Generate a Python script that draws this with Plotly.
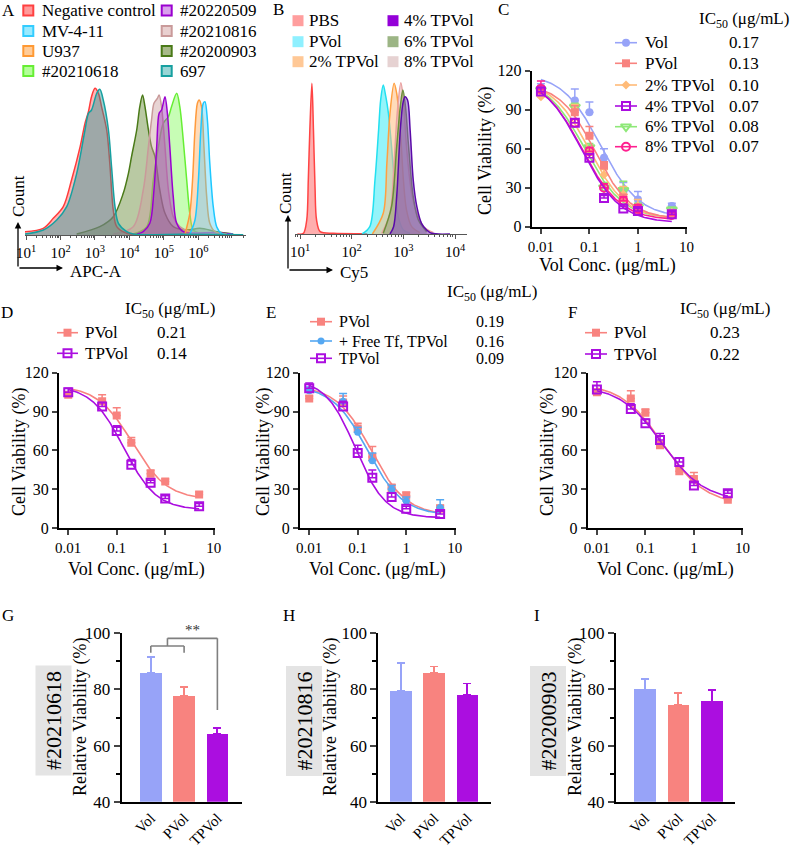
import numpy as np
import plotly.graph_objects as go

W, H = 790, 845
FONT = "Liberation Serif"

# ================= DATA =================
# ---- Panel A : flow histograms, x = log10(APC-A), y = relative count ----
a_labels = ["Negative control", "MV-4-11", "U937", "#20210618",
            "#20220509", "#20210816", "#20200903", "697"]
a_neg_x = [0.97, 1.50, 1.79, 2.08, 2.32, 2.57, 2.71, 2.81, 2.90, 3.00, 3.10, 3.19, 3.34, 3.43, 3.53, 3.63, 3.92, 4.5]
a_neg_y = [10, 20, 50, 85, 165, 265, 335, 370, 415, 440, 425, 385, 315, 215, 75, 25, 5, 0]
a_mv_x = [5.75, 5.90, 6.00, 6.07, 6.14, 6.19, 6.26, 6.33, 6.43, 6.53, 6.67, 7.0]
a_mv_y = [3, 45, 165, 315, 395, 400, 345, 215, 85, 25, 5, 2]
a_u937_x = [5.61, 5.75, 5.83, 5.90, 5.97, 6.02, 6.09, 6.16, 6.24, 6.33, 6.48, 6.82]
a_u937_y = [3, 65, 165, 315, 395, 405, 385, 265, 115, 35, 10, 3]
a_0618_x = [4.11, 4.50, 4.69, 4.84, 4.98, 5.13, 5.22, 5.37, 5.46, 5.56, 5.66, 5.75, 5.85, 6.04]
a_0618_y = [3, 25, 165, 265, 335, 355, 385, 425, 385, 285, 165, 65, 15, 5]
a_0509_x = [4.21, 4.40, 4.59, 4.71, 4.79, 4.86, 4.93, 5.03, 5.10, 5.17, 5.27, 5.37, 5.56, 6.53, 7.0]
a_0509_y = [3, 10, 35, 135, 265, 365, 375, 415, 365, 265, 115, 35, 10, 7, 2]
a_0816_x = [3.53, 4.11, 4.40, 4.55, 4.64, 4.71, 4.81, 4.86, 4.93, 5.03, 5.13, 5.27, 5.46, 5.75, 6.2]
a_0816_y = [3, 25, 135, 265, 345, 395, 410, 420, 385, 265, 135, 55, 25, 10, 3]
a_0903_x = [2.47, 3.14, 3.53, 3.82, 3.97, 4.06, 4.21, 4.30, 4.38, 4.45, 4.55, 4.64, 4.74, 4.88, 5.03, 5.27, 5.66, 6.04, 6.53, 7.01]
a_0903_y = [3, 25, 55, 125, 185, 235, 315, 385, 420, 385, 315, 265, 235, 135, 65, 25, 15, 20, 10, 3]
a_697_x = [0.97, 1.50, 1.89, 2.18, 2.47, 2.71, 2.81, 2.90, 3.05, 3.14, 3.24, 3.39, 3.48, 3.58, 3.68, 3.92, 4.11, 4.6, 5.5, 7.3]
a_697_y = [3, 15, 45, 85, 185, 315, 365, 375, 425, 437, 405, 315, 205, 85, 35, 10, 3, 1, 2, 1]
a_ticks = [1, 2, 3, 4, 5, 6]

# ---- Panel B : flow histograms, x = log10(Cy5) ----
b_labels = ["PBS", "PVol", "2% TPVol", "4% TPVol", "6% TPVol", "8% TPVol"]
b_pbs_x = [0.95, 1.065, 1.13, 1.16, 1.19, 1.23, 1.26, 1.29, 1.32, 1.39, 1.65, 2.3]
b_pbs_y = [0, 2, 42, 162, 312, 452, 312, 142, 42, 7, 2, 1]
b_pvol_x = [2.20, 2.35, 2.45, 2.52, 2.56, 2.61, 2.66, 2.71, 2.77, 2.84, 2.90, 3.00, 3.13]
b_pvol_y = [0, 22, 162, 312, 402, 447, 412, 362, 262, 132, 52, 12, 2]
b_tp2_x = [2.40, 2.61, 2.68, 2.74, 2.82, 2.87, 2.94, 3.00, 3.06, 3.16, 3.32]
b_tp2_y = [0, 62, 212, 362, 452, 422, 312, 162, 72, 22, 4]
b_tp4_x = [2.74, 2.81, 2.87, 2.94, 2.99, 3.03, 3.08, 3.13, 3.19, 3.26, 3.35, 3.45, 3.55, 3.90]
b_tp4_y = [0, 22, 112, 312, 392, 412, 402, 312, 162, 82, 32, 12, 2, 0]
b_tp6_x = [2.61, 2.77, 2.87, 2.94, 2.99, 3.04, 3.10, 3.19, 3.29, 3.45]
b_tp6_y = [2, 82, 262, 382, 432, 382, 262, 112, 42, 7]
b_tp8_x = [2.58, 2.74, 2.82, 2.88, 2.95, 3.00, 3.06, 3.16, 3.26, 3.39, 3.58]
b_tp8_y = [2, 62, 212, 362, 454, 402, 262, 122, 62, 22, 4]
b_ticks = [1, 2, 3, 4]

# ---- Dose-response panels C-F ----
conc = [0.01, 0.05, 0.1, 0.2, 0.5, 1, 5]
conc_ticks = [0.01, 0.1, 1, 10]
conc_ticktext = ["0.01", "0.1", "1", "10"]
via_ticks = [0, 30, 60, 90, 120]

c_labels = ["Vol", "PVol", "2% TPVol", "4% TPVol", "6% TPVol", "8% TPVol"]
c_ic50 = ["0.17", "0.13", "0.10", "0.07", "0.08", "0.07"]
c_vol = [107, 97, 88, 53, 27, 21, 16];  c_vol_err = [3, 9, 8, 7, 7, 6, 2]
c_pvol = [105, 88, 70, 47, 22, 12, 10]; c_pvol_err = [3, 5, 7, 3, 3, 3, 2]
c_tp2 = [100, 90, 57, 40, 25, 16, 11];  c_tp2_err = [3, 4, 3, 4, 6, 5, 2]
c_tp4 = [104, 80, 53, 22, 14, 12, 9.5]; c_tp4_err = [3, 3, 3, 2, 2, 2, 2]
c_tp6 = [105, 92, 61, 30, 28, 15, 13];  c_tp6_err = [3, 3, 3, 4, 7, 3, 2]
c_tp8 = [106, 80, 58, 30, 20, 14, 9];   c_tp8_err = [6, 3, 3, 3, 3, 3, 2]
# 4PL fit parameters: top, bottom, IC50, Hill slope
c_fit_vol = [118, 7, 0.17, 1.1]
c_fit_pvol = [110, 6, 0.13, 1.2]
c_fit_tp2 = [112, 6, 0.10, 1.15]
c_fit_tp4 = [115, 3, 0.07, 1.1]
c_fit_tp6 = [114, 6, 0.08, 1.1]
c_fit_tp8 = [115, 5, 0.07, 1.1]

d_labels = ["PVol", "TPVol"]; d_ic50 = ["0.21", "0.14"]
d_pvol = [103, 98, 87, 66, 42, 36, 26]; d_pvol_err = [2, 5, 6, 4, 3, 2, 2]
d_tp = [105, 94, 75, 49, 35, 23, 17];   d_tp_err = [3, 3, 4, 4, 2, 2, 2]
d_fit_pvol = [110, 22, 0.21, 1.2]
d_fit_tp = [110, 14, 0.14, 1.3]

e_labels = ["PVol", "+ Free Tf, TPVol", "TPVol"]; e_ic50 = ["0.19", "0.16", "0.09"]
e_pvol = [100, 97, 77, 55, 31, 25, 15]; e_pvol_err = [2, 5, 4, 8, 3, 3, 3]
e_tf = [106, 98, 74, 52, 30, 21, 16];   e_tf_err = [3, 6, 4, 6, 3, 3, 6]
e_tp = [108, 94, 58, 39, 24, 15, 11];   e_tp_err = [4, 4, 6, 6, 3, 2, 2]
e_fit_pvol = [110, 10, 0.19, 1.2]
e_fit_tf = [110, 10, 0.16, 1.2]
e_fit_tp = [115, 8, 0.09, 1.4]

f_labels = ["PVol", "TPVol"]; f_ic50 = ["0.23", "0.22"]
f_pvol = [105, 100, 89, 64, 44, 38, 22]; f_pvol_err = [2, 6, 3, 3, 3, 5, 2]
f_tp = [107, 92, 81, 68, 51, 33, 27];    f_tp_err = [6, 4, 3, 5, 3, 2, 2]
f_fit_pvol = [112, 18, 0.23, 1.0]
f_fit_tp = [110, 21, 0.22, 1.0]

# ---- Bar panels G-I ----
bar_cats = ["Vol", "PVol", "TPVol"]
bar_ticks = [40, 60, 80, 100]
g_vals = [85.8, 77.8, 64.1]; g_err = [5.7, 3.2, 2.3]
h_vals = [79.3, 85.9, 78.0]; h_err = [10.0, 2.3, 4.1]
i_vals = [80.0, 74.5, 75.7]; i_err = [3.8, 4.1, 4.1]
bar_samples = ["#20210618", "#20210816", "#20200903"]
g_sig = [93.1, 95.5, 98.2, 72.7]   # bracket levels (Vol-PVol / to TPVol)

# ================= STYLE =================
VOL = "#97a3f8"; PVOL = "#f8837f"; TP = "#ab0ee0"
TP2 = "#ffbb78"; TP6 = "#8ee878"; TP8 = "#ff1f8f"; TF = "#55a8f2"

fig = go.Figure()


def fx(px):
    return px / W


def fy(py):
    return 1 - py / H


def dx(a, b):
    return [fx(a), fx(b)]


def dy(top, bottom):
    return [fy(bottom), fy(top)]


def T(x, y, s, size=17, xa="left", ya="middle", angle=0, color="black", **kw):
    fig.add_annotation(x=x, y=y, xref="x10", yref="y10", text=s, showarrow=False,
                       xanchor=xa, yanchor=ya, textangle=angle,
                       font=dict(size=size, family=FONT, color=color), **kw)


# ---- A histograms
for xv, yv, lc, fc in [
    (a_0618_x, a_0618_y, "#66ee33", "rgba(130,250,90,0.45)"),
    (a_0903_x, a_0903_y, "#4a7a18", "rgba(100,135,50,0.45)"),
    (a_0816_x, a_0816_y, "#c99a9a", "rgba(205,160,160,0.45)"),
    (a_0509_x, a_0509_y, "#9a00d0", "rgba(160,50,190,0.45)"),
    (a_u937_x, a_u937_y, "#ff9a3c", "rgba(255,175,100,0.45)"),
    (a_mv_x, a_mv_y, "#1ec8ff", "rgba(70,210,255,0.40)"),
    (a_neg_x, a_neg_y, "#ff3b3b", "rgba(255,95,95,0.45)"),
    (a_697_x, a_697_y, "#17a0a0", "rgba(40,150,150,0.45)"),
]:
    fig.add_trace(go.Scatter(x=xv, y=yv, mode="lines", fill="tozeroy", fillcolor=fc,
                             line=dict(color=lc, width=1.5, shape="spline", smoothing=0.9),
                             xaxis="x", yaxis="y", hoverinfo="skip"))

# ---- B histograms
for xv, yv, lc, fc in [
    (b_pbs_x, b_pbs_y, "#ff4444", "rgba(255,120,120,0.6)"),
    (b_pvol_x, b_pvol_y, "#22e0f0", "rgba(60,235,245,0.55)"),
    (b_tp2_x, b_tp2_y, "#ffa040", "rgba(255,190,130,0.55)"),
    (b_tp8_x, b_tp8_y, "#eaa0a0", "rgba(225,180,180,0.5)"),
    (b_tp6_x, b_tp6_y, "#6a8f3a", "rgba(130,160,100,0.45)"),
    (b_tp4_x, b_tp4_y, "#5a0aa8", "rgba(130,70,200,0.5)"),
]:
    fig.add_trace(go.Scatter(x=xv, y=yv, mode="lines", fill="tozeroy", fillcolor=fc,
                             line=dict(color=lc, width=1.5, shape="spline", smoothing=0.9),
                             xaxis="x2", yaxis="y2", hoverinfo="skip"))


# ---- dose response
def series(ax, y, err, fit, color, symbol, size=8):
    top, bot, ic, h = fit
    xs = np.logspace(-2, np.log10(5), 160)
    ys = bot + (top - bot) / (1 + (xs / ic) ** h)
    fig.add_trace(go.Scatter(x=xs, y=ys, mode="lines", line=dict(color=color, width=1.6),
                             xaxis="x" + ax, yaxis="y" + ax, hoverinfo="skip"))
    openm = "open" in symbol
    fig.add_trace(go.Scatter(
        x=conc, y=y, mode="markers",
        marker=dict(symbol=symbol, size=size, color=color,
                    line=dict(color=color, width=2 if openm else 0)),
        error_y=dict(type="data", array=err, arrayminus=[0] * len(err), symmetric=False,
                     color=color, thickness=1.5, width=4),
        xaxis="x" + ax, yaxis="y" + ax, hoverinfo="skip"))


series("3", c_vol, c_vol_err, c_fit_vol, VOL, "circle")
series("3", c_tp6, c_tp6_err, c_fit_tp6, TP6, "triangle-down-open", 9)
series("3", c_tp2, c_tp2_err, c_fit_tp2, TP2, "diamond", 7)
series("3", c_pvol, c_pvol_err, c_fit_pvol, PVOL, "square")
series("3", c_tp8, c_tp8_err, c_fit_tp8, TP8, "circle-open")
series("3", c_tp4, c_tp4_err, c_fit_tp4, TP, "square-open")

series("4", d_pvol, d_pvol_err, d_fit_pvol, PVOL, "square")
series("4", d_tp, d_tp_err, d_fit_tp, TP, "square-open")

series("5", e_pvol, e_pvol_err, e_fit_pvol, PVOL, "square")
series("5", e_tf, e_tf_err, e_fit_tf, TF, "circle", 7)
series("5", e_tp, e_tp_err, e_fit_tp, TP, "square-open")

series("6", f_pvol, f_pvol_err, f_fit_pvol, PVOL, "square")
series("6", f_tp, f_tp_err, f_fit_tp, TP, "square-open")

# ---- bars
for ax, vals, err in [("7", g_vals, g_err), ("8", h_vals, h_err), ("9", i_vals, i_err)]:
    cols = [VOL, PVOL, TP]
    for k in range(3):
        fig.add_trace(go.Bar(x=[k], y=[vals[k]], width=0.65, marker=dict(color=cols[k], line=dict(width=0)),
                             error_y=dict(type="data", array=[err[k]], arrayminus=[0], symmetric=False,
                                          color=cols[k], thickness=1.8, width=4),
                             xaxis="x" + ax, yaxis="y" + ax, hoverinfo="skip"))

# significance bracket in G
SIG = "#7f7f7f"
for (x0, y0, x1, y1) in [(0, g_sig[0], 0, g_sig[1]), (0, g_sig[1], 1, g_sig[1]), (1, g_sig[1], 1, g_sig[0]),
                         (0.5, g_sig[1], 0.5, g_sig[2]), (0.5, g_sig[2], 2, g_sig[2]), (2, g_sig[2], 2, g_sig[3])]:
    fig.add_shape(type="line", xref="x7", yref="y7", x0=x0, y0=y0, x1=x1, y1=y1,
                  line=dict(color=SIG, width=1.6))
fig.add_annotation(x=1.25, y=g_sig[2] - 0.6, xref="x7", yref="y7", text="**", showarrow=False,
                   yanchor="bottom", font=dict(size=15, family=FONT, color="#333"))

# ================= LAYOUT =================
lay = dict(width=W, height=H, margin=dict(l=0, r=0, t=0, b=0, pad=0, autoexpand=False),
           paper_bgcolor="white", plot_bgcolor="rgba(0,0,0,0)", showlegend=False, bargap=0,
           font=dict(family=FONT, size=16, color="black"))


def minors(lo, hi):
    out = []
    for e in range(0, 8):
        for m in range(2, 10):
            v = e + np.log10(m)
            if lo <= v <= hi:
                out.append(float(v))
    return out


histx = dict(showline=True, linecolor="#555", linewidth=1, ticks="outside", ticklen=4, tickwidth=1,
             tickcolor="#555", showgrid=False, zeroline=False, tickfont=dict(size=15, family=FONT),
             tickmode="array", automargin=False)
lay["xaxis"] = dict(histx, domain=dx(25, 246), range=[0.97, 7.38], tickvals=a_ticks,
                    ticktext=[f"10<sup>{k}</sup>" for k in a_ticks], anchor="y",
                    minor=dict(tickmode="array", tickvals=minors(0.97, 7.38), ticks="outside",
                               ticklen=2, tickcolor="#555"))
lay["yaxis"] = dict(domain=dy(80, 235), range=[0, 465], visible=False, anchor="x", automargin=False)
lay["xaxis2"] = dict(histx, domain=dx(295, 467), range=[0.903, 4.23], tickvals=b_ticks,
                     ticktext=[f"10<sup>{k}</sup>" for k in b_ticks], anchor="y2",
                     minor=dict(tickmode="array", tickvals=minors(0.903, 4.23), ticks="outside",
                                ticklen=2, tickcolor="#555"))
lay["yaxis2"] = dict(domain=dy(79, 234), range=[0, 465], visible=False, anchor="x2", automargin=False)

dosex = dict(type="log", range=[-2.19, 1.02], tickmode="array", tickvals=conc_ticks, ticktext=conc_ticktext,
             showline=True, linecolor="black", linewidth=2, ticks="outside", ticklen=5, tickwidth=2,
             showgrid=False, zeroline=False, tickfont=dict(size=15, family=FONT), automargin=False)
dosey = dict(range=[0, 120], tickmode="array", tickvals=via_ticks, showline=True, linecolor="black",
             linewidth=2, ticks="outside", ticklen=5, tickwidth=2, showgrid=False, zeroline=False,
             tickfont=dict(size=16, family=FONT), automargin=False)
for ax, (xl, ytop, ybot) in {"3": (531.7, 70.7, 226.7), "4": (59, 372.7, 528.2),
                             "5": (300, 372.7, 528.2), "6": (587.7, 372.7, 528.2)}.items():
    lay["xaxis" + ax] = dict(dosex, domain=dx(xl, xl + 155.7), anchor="y" + ax)
    lay["yaxis" + ax] = dict(dosey, domain=dy(ytop, ybot), anchor="x" + ax)

barx = dict(tickmode="array", tickvals=[0, 1, 2], ticktext=bar_cats, tickangle=-45, showline=True,
            linecolor="black", linewidth=2, ticks="", showgrid=False, zeroline=False,
            tickfont=dict(size=15, family=FONT), automargin=False)
bary = dict(range=[40, 100], tickmode="array", tickvals=bar_ticks, showline=True, linecolor="black",
            linewidth=2, ticks="outside", ticklen=6, tickwidth=2, showgrid=False, zeroline=False,
            tickfont=dict(size=17, family=FONT), automargin=False,
            minor=dict(tickmode="array", tickvals=[50, 70, 90], ticks="outside", ticklen=4, tickwidth=2,
                       tickcolor="black"))
for ax, (xl, xr, r0, r1) in {"7": (121.7, 241.7, -0.874, 2.73), "8": (378.3, 490.7, -0.675, 2.70),
                             "9": (616, 735, -0.87, 2.70)}.items():
    lay["xaxis" + ax] = dict(barx, domain=dx(xl, xr), range=[r0, r1], anchor="y" + ax)
    lay["yaxis" + ax] = dict(bary, domain=dy(633.3, 801.7), anchor="x" + ax)

lay["xaxis10"] = dict(domain=[0, 1], range=[0, W], visible=False, anchor="y10", fixedrange=True,
                      automargin=False)
lay["yaxis10"] = dict(domain=[0, 1], range=[H, 0], visible=False, anchor="x10", fixedrange=True,
                      automargin=False)
fig.update_layout(**lay)


# ================= TEXT / LEGENDS (pixel overlay) =================
def sq(x, y, fill, border, size=11, bw=2):
    fig.add_trace(go.Scatter(x=[x], y=[y], mode="markers", xaxis="x10", yaxis="y10", hoverinfo="skip",
                             marker=dict(symbol="square", size=size, color=fill,
                                         line=dict(color=border, width=bw))))


def glyph(x0, x1, y, color, symbol, size=8):
    fig.add_trace(go.Scatter(x=[x0, x1], y=[y, y], mode="lines", xaxis="x10", yaxis="y10",
                             line=dict(color=color, width=1.6), hoverinfo="skip"))
    openm = "open" in symbol
    fig.add_trace(go.Scatter(x=[(x0 + x1) / 2], y=[y], mode="markers", xaxis="x10", yaxis="y10",
                             hoverinfo="skip",
                             marker=dict(symbol=symbol, size=size, color=color,
                                         line=dict(color=color, width=2 if openm else 0))))


# panel letters
for s, x, y in [("A", 8, 10), ("B", 278, 9), ("C", 503, 9), ("D", 7, 312), ("E", 271, 312),
                ("F", 572, 312), ("G", 8, 615), ("H", 289, 615), ("I", 537, 615)]:
    T(x, y, s, size=17, xa="center")

# legend A
a_fill = ["#ff9a9a", "#99eaff", "#ffcc99", "#b3ff99", "#d9a0ec", "#e9d0d0", "#a8ba8a", "#99d5d5"]
a_border = ["#ff4040", "#33ccff", "#ff9933", "#66ee33", "#9a00d0", "#c99a9a", "#4a7a18", "#17a0a0"]
rows_a = [10.5, 31, 51, 71]
for k, lab in enumerate(a_labels):
    col, row = divmod(k, 4)
    xs = 28.3 if col == 0 else 166.7
    sq(xs, rows_a[row], a_fill[k], a_border[k], size=10)
    T(xs + 11.5, rows_a[row], lab, size=17)

# legend B
b_fill = ["#ff9e9e", "#8ff0ff", "#ffc896", "#9400d8", "#9cb585", "#e6d2d2"]
rows_b = [20.7, 41.7, 61.7]
for k, lab in enumerate(b_labels):
    col, row = divmod(k, 3)
    xs = 298 if col == 0 else 393
    sq(xs, rows_b[row], b_fill[k], b_fill[k], size=11, bw=0)
    T(xs + 8.5, rows_b[row], lab, size=17)

# axis arrows A / B
for (xa_, yb, yt, xr) in [(18, 268, 222, 63), (288, 270, 215, 333)]:
    fig.add_annotation(x=xa_, y=yt, ax=xa_, ay=yb, xref="x10", yref="y10", axref="x10", ayref="y10",
                       text="", showarrow=True, arrowhead=2, arrowsize=1, arrowwidth=1.3, arrowcolor="black")
    fig.add_annotation(x=xr, y=yb, ax=xa_, ay=yb, xref="x10", yref="y10", axref="x10", ayref="y10",
                       text="", showarrow=True, arrowhead=2, arrowsize=1, arrowwidth=1.3, arrowcolor="black")
T(18, 196, "Count", size=17, xa="center", angle=-90)
T(68, 271, "APC-A", size=17)
T(285, 193, "Count", size=17, xa="center", angle=-90)
T(338, 272, "Cy5", size=17)

# dose-response axis titles
for (x, y) in [(485, 151), (19, 452), (263, 452), (547, 452)]:
    T(x, y, "Cell Viability (%)", size=18, xa="center", angle=-90)
for (x, y) in [(607.5, 265), (136, 569), (377, 569), (665, 569)]:
    T(x, y, "Vol Conc. (μg/mL)", size=18, xa="center")

IC = "IC<sub>50</sub> (μg/mL)"
# legend C
T(697, 20, IC, size=17)
c_style = [(VOL, "circle", 8), (PVOL, "square", 8), (TP2, "diamond", 7), (TP, "square-open", 8),
           (TP6, "triangle-down-open", 9), (TP8, "circle-open", 8)]
for k, y in enumerate([42.7, 63.3, 85, 106, 126.7, 146.7]):
    glyph(615, 637, y, *c_style[k])
    T(643, y, c_labels[k], size=17)
    T(727, y, c_ic50[k], size=17)
# legend D
T(123, 310, IC, size=17)
for k, y in enumerate([332.7, 353.3]):
    glyph(57, 78, y, *[(PVOL, "square", 8), (TP, "square-open", 8)][k])
    T(83, y, d_labels[k], size=17)
    T(155, y, d_ic50[k], size=17)
# legend E
T(445, 293, IC, size=17)
for k, y in enumerate([321.7, 341, 358.3]):
    glyph(310, 332, y, *[(PVOL, "square", 8), (TF, "circle", 7), (TP, "square-open", 8)][k])
    T(337, y, e_labels[k], size=16)
    T(474, y, e_ic50[k], size=16)
# legend F
T(678, 310, IC, size=17)
for k, y in enumerate([332.7, 354]):
    glyph(585, 607, y, *[(PVOL, "square", 8), (TP, "square-open", 8)][k])
    T(612, y, f_labels[k], size=17)
    T(708, y, f_ic50[k], size=17)

# bar panels: y titles + sample boxes
for (xt, xb, s) in [(80, 53, bar_samples[0]), (330, 303.5, bar_samples[1]), (575, 547.5, bar_samples[2])]:
    T(xt, 717, "Relative Viability (%)", size=18, xa="center", angle=-90)
    T(xb, 721, s, size=22, xa="center", angle=-90, bgcolor="#e4e4e4", borderpad=5)

fig.write_html("out.html", config={"displayModeBar": False, "staticPlot": True},
               post_script="document.body.style.margin='0px';document.body.style.overflow='hidden';")
